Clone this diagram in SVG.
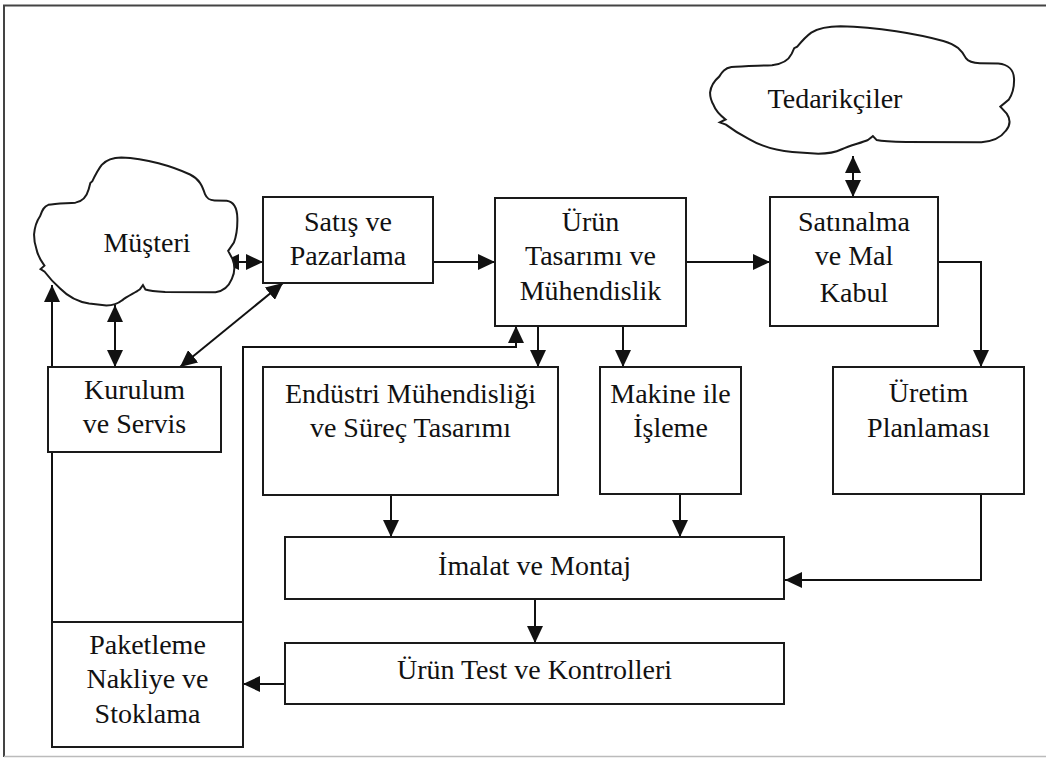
<svg xmlns="http://www.w3.org/2000/svg" xmlns:xlink="http://www.w3.org/1999/xlink" width="1046" height="758" viewBox="0 0 1046 758">
  <style>
    .box { fill: #ffffff; stroke: #1a1a1a; stroke-width: 2; }
    .cloud { fill: #ffffff; stroke: #1a1a1a; stroke-width: 2; }
    .lbl { font-family: "Liberation Serif", "Times New Roman", serif; font-size: 28px; fill: #111111; text-anchor: middle; }
    .wire { fill: none; stroke: #111111; stroke-width: 2; }
    .frame-dark { fill: none; stroke: #444444; stroke-width: 2; }
    .frame-light { fill: none; stroke: #bbbbbb; stroke-width: 1.5; }
  </style>
  <defs>
    <marker id="arrow" markerUnits="userSpaceOnUse" viewBox="0 0 17 16" refX="17" refY="8" markerWidth="17" markerHeight="16" orient="auto-start-reverse">
      <path d="M0,0 L17,8 L0,16 Z" fill="#111111"/>
    </marker>
    <!-- irregular cloud outline in a 100x100 box, stretched per use -->
    <symbol id="cloudShape" viewBox="-1 -1 102 102" preserveAspectRatio="none" overflow="visible">
      <path class="cloud" vector-effect="non-scaling-stroke" d="M 42.8 0 C 55 0.5, 68 6, 76.5 11.5 C 81 14.5, 82.5 19, 83.9 25 C 84.8 28, 86 28.8, 88.5 29 L 94.5 29.3 C 98 30, 99.6 35, 99.7 41 C 99.8 47, 99.5 52, 98 57.5 L 95.2 63.1 L 97.3 68.5 C 98.6 73, 98.4 78, 97 82 C 95.5 87, 93 90.3, 89 91 L 64.3 90.8 C 60 90.6, 56.5 90.2, 54.6 89.2 L 53.4 86.2 L 51.8 89.2 C 49.5 91.5, 46 93.5, 43.2 96.5 C 41 99, 38.5 100, 35.5 100 L 27 98.6 C 20 97.2, 16 93, 12.8 88.5 C 9.5 84.5, 7 80.5, 5.2 77.2 L 3.2 75.4 L 5.1 73.1 C 3.2 69.5, 1.8 66, 1.2 62 C 0.2 58, 0 54.5, 0 52 C 0.3 46.5, 1.5 42.5, 3 39.5 C 4 35.5, 4.8 33, 7 32 C 10.5 31, 16 31, 20.3 30.5 C 24 29.8, 26 25.5, 26.8 21.5 L 27.6 17.2 L 28.6 16 C 29.8 12.5, 31.2 8.5, 33.2 5 C 35.2 2, 38.2 0, 42.8 0 Z"/>
    </symbol>
  </defs>

  <rect x="0" y="0" width="1046" height="758" fill="#ffffff"/>

  <!-- page frame -->
  <g id="frame">
    <path class="frame-dark" d="M 4 757 L 4 5.5 L 1046 5.5"/>
    <path class="frame-light" d="M 4 756.5 L 1046 756.5"/>
  </g>

  <!-- connectors -->
  <g id="connectors">
    <!-- Müşteri <-> Satış ve Pazarlama -->
    <line class="wire" x1="222" y1="262" x2="263" y2="262" marker-start="url(#arrow)" marker-end="url(#arrow)"/>
    <!-- Satış -> Ürün Tasarımı -->
    <line class="wire" x1="433" y1="262" x2="495" y2="262" marker-end="url(#arrow)"/>
    <!-- Ürün Tasarımı -> Satınalma -->
    <line class="wire" x1="686" y1="262" x2="770" y2="262" marker-end="url(#arrow)"/>
    <!-- Tedarikçiler <-> Satınalma -->
    <line class="wire" x1="853" y1="156" x2="853" y2="197" marker-start="url(#arrow)" marker-end="url(#arrow)"/>
    <!-- Satınalma -> Üretim Planlaması -->
    <polyline class="wire" points="938,262 981,262 981,367" marker-end="url(#arrow)"/>
    <!-- Üretim Planlaması -> İmalat ve Montaj -->
    <polyline class="wire" points="981,494 981,580 785,580" marker-end="url(#arrow)"/>
    <!-- Müşteri <-> Kurulum ve Servis -->
    <line class="wire" x1="115" y1="305" x2="115" y2="367" marker-start="url(#arrow)" marker-end="url(#arrow)"/>
    <!-- Satış <-> Kurulum ve Servis -->
    <line class="wire" x1="283" y1="283" x2="180" y2="367" marker-start="url(#arrow)" marker-end="url(#arrow)"/>
    <!-- Ürün Tasarımı -> Endüstri Mühendisliği -->
    <line class="wire" x1="538" y1="326" x2="538" y2="367" marker-end="url(#arrow)"/>
    <!-- Ürün Tasarımı -> Makine ile İşleme -->
    <line class="wire" x1="623" y1="326" x2="623" y2="367" marker-end="url(#arrow)"/>
    <!-- Paketleme -> Ürün Tasarımı (feedback) -->
    <polyline class="wire" points="243,622 243,347 516,347 516,326" marker-end="url(#arrow)"/>
    <!-- Paketleme -> Müşteri -->
    <line class="wire" x1="52" y1="622" x2="52" y2="285" marker-end="url(#arrow)"/>
    <!-- Endüstri -> İmalat -->
    <line class="wire" x1="391" y1="495" x2="391" y2="537" marker-end="url(#arrow)"/>
    <!-- Makine -> İmalat -->
    <line class="wire" x1="680" y1="494" x2="680" y2="537" marker-end="url(#arrow)"/>
    <!-- İmalat -> Ürün Test -->
    <line class="wire" x1="535" y1="599" x2="535" y2="643" marker-end="url(#arrow)"/>
    <!-- Ürün Test -> Paketleme -->
    <line class="wire" x1="285" y1="684" x2="243" y2="684" marker-end="url(#arrow)"/>
  </g>

  <g id="musteri">
    <use xlink:href="#cloudShape" href="#cloudShape" x="32" y="156" width="208" height="151"/>
    <text class="lbl" x="147" y="252">Müşteri</text>
  </g>

  <g id="tedarikciler">
    <use xlink:href="#cloudShape" href="#cloudShape" x="707" y="25" width="311" height="130"/>
    <text class="lbl" x="835" y="108">Tedarikçiler</text>
  </g>

  <g id="satis">
    <rect class="box" x="263" y="197" width="170" height="86"/>
    <text class="lbl" x="348" y="231">Satış ve</text>
    <text class="lbl" x="348" y="265">Pazarlama</text>
  </g>

  <g id="urun-tasarim">
    <rect class="box" x="495" y="198" width="191" height="128"/>
    <text class="lbl" x="590.5" y="231">Ürün</text>
    <text class="lbl" x="590.5" y="265">Tasarımı ve</text>
    <text class="lbl" x="590.5" y="300">Mühendislik</text>
  </g>

  <g id="satinalma">
    <rect class="box" x="770" y="197" width="168" height="129"/>
    <text class="lbl" x="854" y="231">Satınalma</text>
    <text class="lbl" x="854" y="265">ve Mal</text>
    <text class="lbl" x="854" y="302">Kabul</text>
  </g>

  <g id="kurulum">
    <rect class="box" x="48" y="367" width="173" height="85"/>
    <text class="lbl" x="134.5" y="399">Kurulum</text>
    <text class="lbl" x="134.5" y="433">ve Servis</text>
  </g>

  <g id="endustri">
    <rect class="box" x="263" y="367" width="295" height="128"/>
    <text class="lbl" x="410.5" y="403">Endüstri Mühendisliği</text>
    <text class="lbl" x="410.5" y="437">ve Süreç Tasarımı</text>
  </g>

  <g id="makine">
    <rect class="box" x="600" y="367" width="141" height="127"/>
    <text class="lbl" x="670.5" y="403">Makine ile</text>
    <text class="lbl" x="670.5" y="437">İşleme</text>
  </g>

  <g id="uretim-planlama">
    <rect class="box" x="833" y="367" width="191" height="127"/>
    <text class="lbl" x="928.5" y="402">Üretim</text>
    <text class="lbl" x="928.5" y="437">Planlaması</text>
  </g>

  <g id="imalat">
    <rect class="box" x="285" y="537" width="499" height="62"/>
    <text class="lbl" x="534.5" y="575">İmalat ve Montaj</text>
  </g>

  <g id="urun-test">
    <rect class="box" x="285" y="643" width="499" height="61"/>
    <text class="lbl" x="534.5" y="679">Ürün Test ve Kontrolleri</text>
  </g>

  <g id="paketleme">
    <rect class="box" x="52" y="622" width="191" height="125"/>
    <text class="lbl" x="147.5" y="654">Paketleme</text>
    <text class="lbl" x="147.5" y="688">Nakliye ve</text>
    <text class="lbl" x="147.5" y="723">Stoklama</text>
  </g>
</svg>
